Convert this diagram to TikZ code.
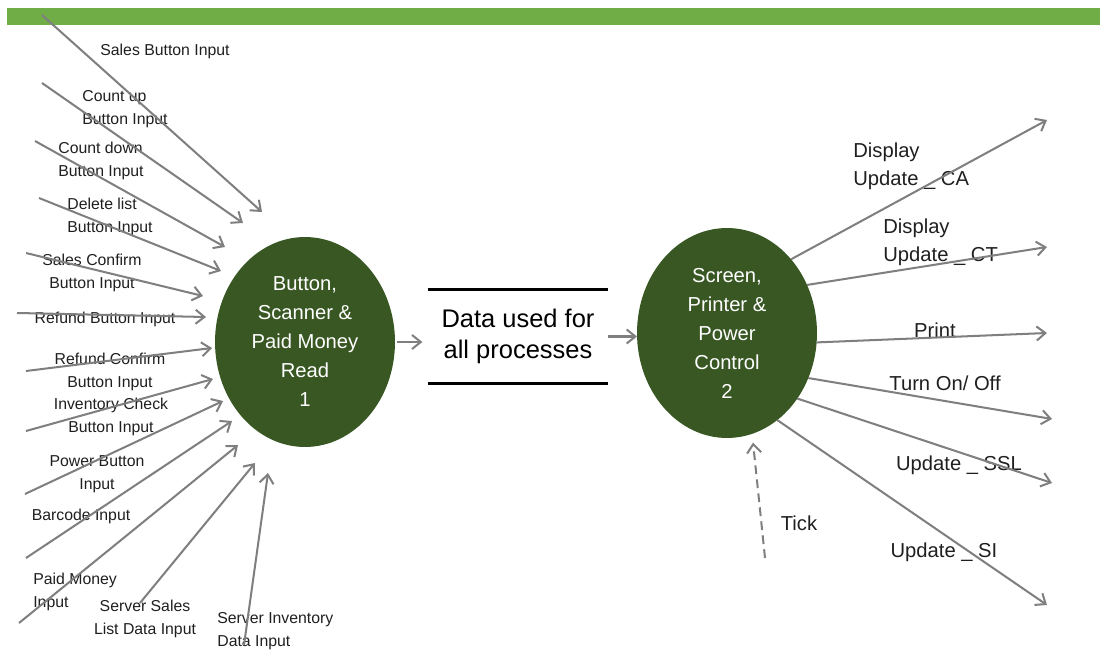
\documentclass[tikz,border=0pt]{standalone}
\usepackage{fontspec}
\setmainfont{Liberation Sans}
\usepackage{tikz}
\usetikzlibrary{positioning,shapes.geometric,arrows.meta}
\definecolor{barGreen}{HTML}{70AD47}
\definecolor{procGreen}{HTML}{385723}
\definecolor{flowGray}{HTML}{7F7F7F}

\begin{document}
\begin{tikzpicture}[
  x=0.02cm, y=-0.02cm,
  proc/.style={ellipse, fill=procGreen, minimum width=3.6cm, minimum height=4.2cm, inner sep=0pt, outer sep=0pt, align=center, text=white, font=\fontsize{11.5}{16.5}\selectfont},
  flow/.style={draw=flowGray, line width=1.15pt, -{Straight Barb[length=5pt,width=8pt]}},
  lbl/.style={inner sep=0pt, align=center, text=black!88, font=\fontsize{9}{13}\selectfont},
  lbll/.style={lbl, align=left, anchor=west},
  outlbl/.style={inner sep=0pt, align=center, text=black!88, font=\fontsize{11.5}{16}\selectfont},
  outlbll/.style={outlbl, align=left, anchor=west},
  dsline/.style={line width=1.4pt}
]
  \useasboundingbox (0,0) rectangle (1105,655);
  \fill[barGreen] (7,8) rectangle (1100,25);

  % Nodes
  \node[proc] (p1) at (305,342) {Button,\\Scanner \&\\Paid Money\\Read\\1};
  \node[proc] (p2) at (727,333) {Screen,\\Printer \&\\Power\\Control\\2};
  \node[minimum width=3.6cm, minimum height=1.86cm, inner sep=0pt, align=center, font=\fontsize{14.5}{18}\selectfont] (store) at (518,336.5) {Data used for\\all processes};
  \draw[dsline] (store.north west) -- (store.north east);
  \draw[dsline] (store.south west) -- (store.south east);

  % Input labels
  \node[lbl] (salesL) at (165,51) {Sales Button Input};
  \node[lbll] (upL) at (82,109.5) {Count up\\Button Input};
  \node[lbll] (downL) at (58,161) {Count down\\Button Input};
  \node[lbll] (delL) at (67,217) {Delete list\\Button Input};
  \node[lbl] (sconfL) at (92,272.5) {Sales Confirm\\Button Input};
  \node[lbl] (refL) at (105,319) {Refund Button Input};
  \node[lbl] (rconfL) at (110,372) {Refund Confirm\\Button Input};
  \node[lbl] (invL) at (111,416.5) {Inventory Check\\Button Input};
  \node[lbl] (powL) at (97,474) {Power Button\\Input};
  \node[lbl] (barL) at (81,516) {Barcode Input};
  \node[lbll] (paidL) at (33,591.5) {Paid Money\\Input};
  \node[lbl] (ssalesL) at (145,619) {Server Sales\\List Data Input};
  \node[lbll] (sinvL) at (217,631) {Server Inventory\\Data Input};

  % Output labels
  \node[outlbll] (caL) at (853,166) {Display\\Update \_ CA};
  \node[outlbll] (ctL) at (883,242.5) {Display\\Update \_ CT};
  \node[outlbl] (printL) at (935,330) {Print};
  \node[outlbl] (onL) at (945,383) {Turn On/ Off};
  \node[outlbl] (sslL) at (959,465) {Update \_ SSL};
  \node[outlbl] (siL) at (944,552) {Update \_ SI};
  \node[outlbl] (tickL) at (799,523) {Tick};

  % Free ends
  \coordinate (salesS) at (42,15);    \coordinate (salesE) at (262,212);
  \coordinate (upS) at (42,83);       \coordinate (upE) at (243,223);
  \coordinate (downS) at (35,141);    \coordinate (downE) at (225,247);
  \coordinate (delS) at (39,198);     \coordinate (delE) at (221,271);
  \coordinate (sconfS) at (26,253);   \coordinate (sconfE) at (203,296);
  \coordinate (refS) at (17,313);     \coordinate (refE) at (206,317);
  \coordinate (rconfS) at (26,371);   \coordinate (rconfE) at (212,348);
  \coordinate (invS) at (26,431);     \coordinate (invE) at (213,379);
  \coordinate (powS) at (25,494);     \coordinate (powE) at (223,401);
  \coordinate (barS) at (26,558);     \coordinate (barE) at (232,421);
  \coordinate (paidS) at (19,623);    \coordinate (paidE) at (238,445);
  \coordinate (ssalesS) at (140,603); \coordinate (ssalesE) at (255,463);
  \coordinate (sinvS) at (244,645);   \coordinate (sinvE) at (268,473);
  \coordinate (caE) at (1047,120);
  \coordinate (ctE) at (1047,247);
  \coordinate (printE) at (1047,333);
  \coordinate (onE) at (1052,419);
  \coordinate (sslE) at (1052,483);
  \coordinate (siE) at (1047,605);
  \coordinate (tickS) at (765,558);

  % Arrows
  \draw[flow] (salesS) -- (salesE);
  \draw[flow] (upS) -- (upE);
  \draw[flow] (downS) -- (downE);
  \draw[flow] (delS) -- (delE);
  \draw[flow] (sconfS) -- (sconfE);
  \draw[flow] (refS) -- (refE);
  \draw[flow] (rconfS) -- (rconfE);
  \draw[flow] (invS) -- (invE);
  \draw[flow] (powS) -- (powE);
  \draw[flow] (barS) -- (barE);
  \draw[flow] (paidS) -- (paidE);
  \draw[flow] (ssalesS) -- (ssalesE);
  \draw[flow] (sinvS) -- (sinvE);
  \draw[flow, shorten <=1pt, shorten >=3pt] (p1.east) -- (p1.east -| store.west);
  \draw[flow] (store.east) -- (store.east -| p2.west);
  \draw[flow] (p2.49) -- (caE);
  \draw[flow] (p2.31) -- (ctE);
  \draw[flow] (p2.-6) -- (printE);
  \draw[flow] (p2.-29) -- (onE);
  \draw[flow] (p2.-43) -- (sslE);
  \draw[flow] (p2.-60) -- (siE);
  \draw[flow, dash pattern=on 5pt off 3pt, shorten >=5pt] (tickS) -- (p2.-76);
\end{tikzpicture}
\end{document}
